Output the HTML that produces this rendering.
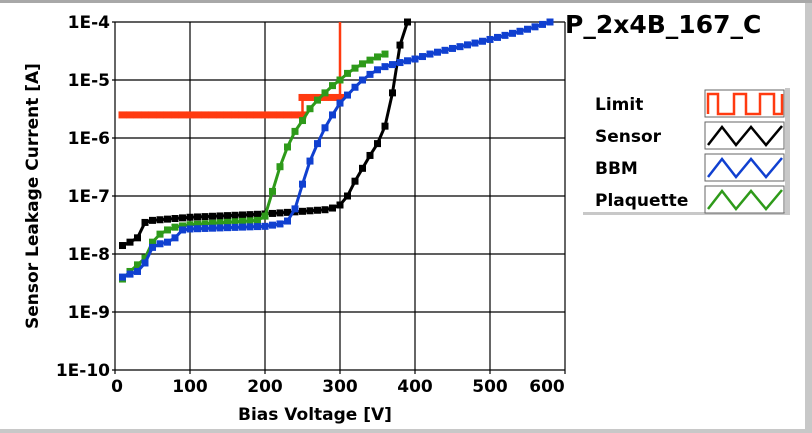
<!DOCTYPE html>
<html><head><meta charset="utf-8"><style>
html,body{margin:0;padding:0;background:#fff;}
body{width:812px;height:433px;overflow:hidden;position:relative;font-family:"DejaVu Sans",sans-serif;}
</style></head><body>
<svg id="s" width="812" height="433" xmlns="http://www.w3.org/2000/svg" style="position:absolute;left:0;top:0">
<rect x="0" y="0" width="812" height="3" fill="#a8a8a8"/>
<rect x="805" y="3" width="7" height="430" fill="#c8c8c8"/>
<rect x="0" y="429" width="812" height="4" fill="#c8c8c8"/>
<g id="grid" stroke="#000" stroke-width="1.2"></g>
<g id="data"></g>
<g font-family="DejaVu Sans, sans-serif" font-weight="bold" font-size="17" fill="#000" id="lab"></g>
<text x="315" y="420" font-family="DejaVu Sans, sans-serif" font-weight="bold" font-size="17" text-anchor="middle">Bias Voltage [V]</text>
<text transform="translate(38,196) rotate(-90)" font-family="DejaVu Sans, sans-serif" font-weight="bold" font-size="17" text-anchor="middle">Sensor Leakage Current [A]</text>
<text x="565" y="33" font-family="DejaVu Sans, sans-serif" font-weight="bold" font-size="25">P_2x4B_167_C</text>
<rect x="785" y="88" width="5" height="127" fill="#c8c8c8"/>
<rect x="583" y="212" width="205" height="3" fill="#c8c8c8"/>
<g font-family="DejaVu Sans, sans-serif" font-weight="bold" font-size="17">
<text x="595" y="110">Limit</text>
<text x="595" y="142">Sensor</text>
<text x="595" y="174">BBM</text>
<text x="595" y="206">Plaquette</text>
</g>
<g id="leg"></g>
</svg>
<script>
const X=v=>115+0.75*v, Y=i=>22+58*(-4-Math.log10(i));
const ns="http://www.w3.org/2000/svg";
function el(p,t,a){const e=document.createElementNS(ns,t);for(const k in a)e.setAttribute(k,a[k]);document.getElementById(p).appendChild(e);return e;}
for(let v=100;v<=600;v+=100)el("grid","line",{x1:X(v),x2:X(v),y1:22,y2:370});
for(let d=-4;d>=-10;d--){const y=Y(Math.pow(10,d));el("grid","line",{x1:112,x2:565,y1:y,y2:y});
 const t=el("lab","text",{x:110,y:y+6,"text-anchor":"end"});t.textContent="1E"+d;}
el("grid","line",{x1:115,x2:115,y1:22,y2:370});
for(let v=0;v<=600;v+=100){el("grid","line",{x1:X(v),x2:X(v),y1:370,y2:374});
 const t=el("lab","text",{x:v==600?547:X(v)+(v==0?2:0),y:392,"text-anchor":"middle"});t.textContent=v;}
function series(pts,col,mk=true,w=3){
 const p=pts.map(q=>X(q[0])+","+Y(q[1])).join(" ");
 el("data","polyline",{points:p,fill:"none",stroke:col,"stroke-width":w});
 if(mk)pts.forEach(q=>{if(Y(q[1])<21)return;el("data","rect",{x:X(q[0])-3.5,y:Y(q[1])-3.5,width:7,height:7,fill:col});});
}
function interp(k,a){const out=[];for(let v=a[0][0];v<=a[a.length-1][0];v+=k){let i=0;while(a[i+1]&&a[i+1][0]<v)i++;const p=a[i],q=a[i+1]||a[i];const t=q[0]==p[0]?0:(v-p[0])/(q[0]-p[0]);out.push([v,Math.pow(10,Math.log10(p[1])+t*(Math.log10(q[1])-Math.log10(p[1])))]);}return out;}
let lim=[];for(let v=10;v<=250;v+=10)lim.push([v,2.5e-6]);
lim.push([250,5e-6]);for(let v=260;v<=300;v+=10)lim.push([v,5e-6]);
el("data","polyline",{points:lim.map(q=>X(q[0])+","+Y(q[1])).join(" ")+" "+X(300)+",22",fill:"none",stroke:"#ff3a10","stroke-width":2.5});
lim.forEach(q=>el("data","rect",{x:X(q[0])-4,y:Y(q[1])-3.5,width:8,height:7,fill:"#ff3a10"}));
series(interp(10,[[10,1.4e-8],[20,1.6e-8],[30,1.9e-8],[40,3.5e-8],[50,3.8e-8],[100,4.3e-8],[200,4.9e-8],[280,5.8e-8],[290,6.2e-8],[300,7e-8],[310,1e-7],[320,1.8e-7],[330,3e-7],[340,5e-7],[350,8e-7],[360,1.6e-6],[370,6e-6],[380,4e-5],[390,1e-4]]),"#000");
series(interp(10,[[10,3.7e-9],[20,5e-9],[30,6.5e-9],[40,8.5e-9],[50,1.6e-8],[60,2.2e-8],[70,2.6e-8],[80,2.9e-8],[100,3.2e-8],[190,3.8e-8],[200,4.5e-8],[210,1.2e-7],[220,3.2e-7],[230,7e-7],[240,1.3e-6],[250,2e-6],[260,3.2e-6],[270,4.5e-6],[280,6e-6],[290,8e-6],[300,1e-5],[310,1.3e-5],[320,1.6e-5],[330,1.9e-5],[340,2.2e-5],[350,2.5e-5],[360,2.8e-5]]),"#2e9a1a");
series(interp(10,[[10,4e-9],[20,4.5e-9],[30,5e-9],[40,7e-9],[50,1.3e-8],[60,1.5e-8],[70,1.6e-8],[80,1.9e-8],[90,2.6e-8],[100,2.7e-8],[200,3e-8],[220,3.3e-8],[230,3.7e-8],[240,6e-8],[250,1.6e-7],[260,4e-7],[270,8e-7],[280,1.5e-6],[290,2.5e-6],[300,4e-6],[310,5.5e-6],[320,7.5e-6],[330,1e-5],[340,1.25e-5],[350,1.5e-5],[360,1.7e-5],[380,2e-5],[400,2.3e-5],[420,2.8e-5],[450,3.5e-5],[500,5e-5],[550,7.5e-5],[580,1e-4]]),"#1040d0");
const icons=[["#ff3a10","sq"],["#000","tri"],["#1040d0","tri"],["#2e9a1a","tri"]];
icons.forEach((c,i)=>{const y0=90+i*32;
 el("leg","rect",{x:705,y:y0,width:79,height:27,fill:"#fff",stroke:"#666","stroke-width":1});
 let p;
 if(c[1]=="sq")p="708,"+(y0+24)+" 708,"+(y0+4)+" 718,"+(y0+4)+" 718,"+(y0+24)+" 734,"+(y0+24)+" 734,"+(y0+4)+" 746,"+(y0+4)+" 746,"+(y0+24)+" 760,"+(y0+24)+" 760,"+(y0+4)+" 774,"+(y0+4)+" 774,"+(y0+24)+" 782,"+(y0+24)+" 782,"+(y0+4);
 else p="708,"+(y0+23)+" 722,"+(y0+5)+" 736,"+(y0+23)+" 751,"+(y0+5)+" 766,"+(y0+23)+" 782,"+(y0+4);
 el("leg","polyline",{points:p,fill:"none",stroke:c[0],"stroke-width":2.5});
});
</script>
</body></html>
